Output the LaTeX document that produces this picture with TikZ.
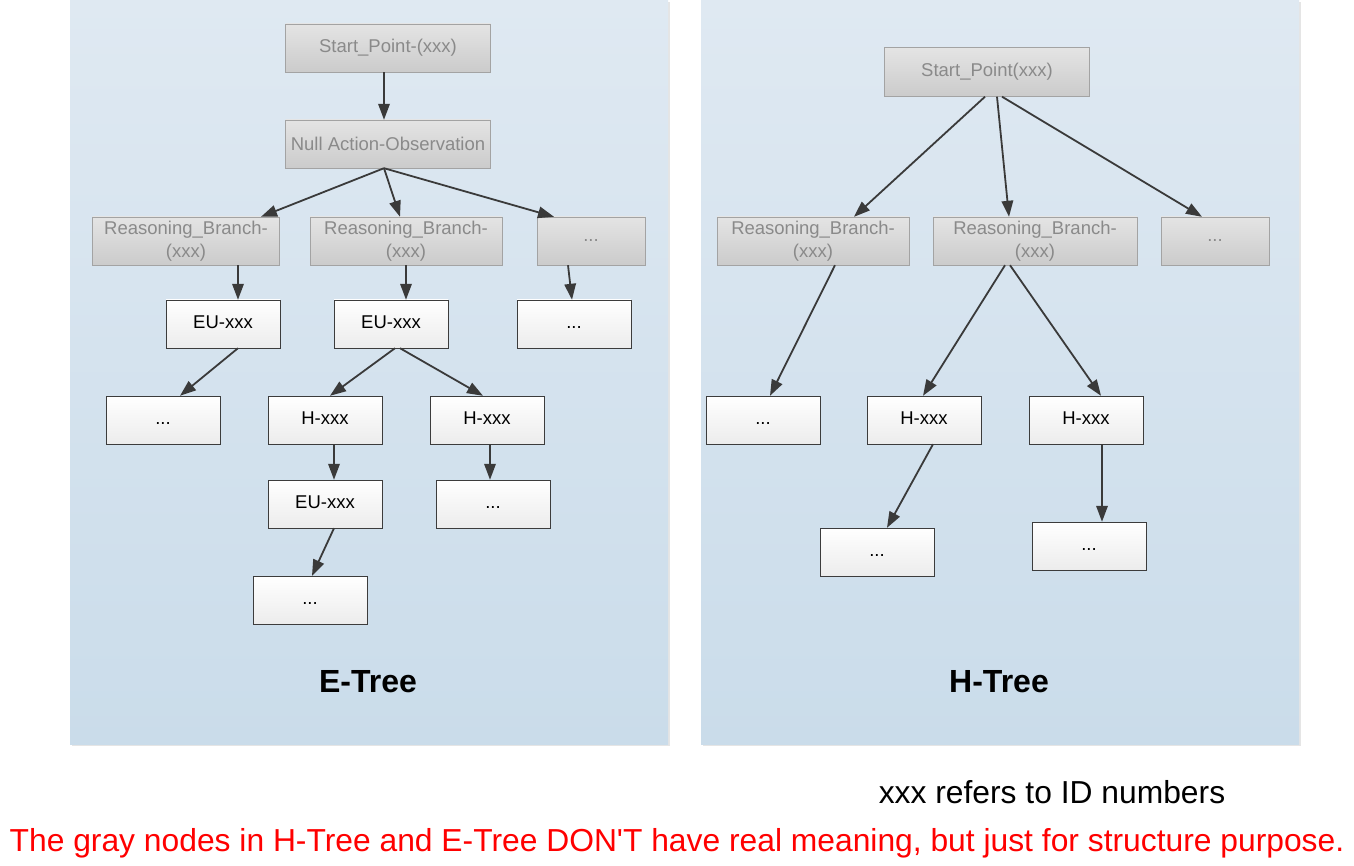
\documentclass[tikz,border=0pt]{standalone}
\usepackage{fontspec}
\setmainfont{Liberation Sans}
\usetikzlibrary{arrows.meta}
\definecolor{panelTop}{HTML}{DFE9F2}
\definecolor{panelBot}{HTML}{CADCEA}
\definecolor{greyTop}{HTML}{E4E4E4}
\definecolor{greyBot}{HTML}{CBCBCB}
\definecolor{greyLine}{HTML}{A3A3A3}
\definecolor{greyText}{HTML}{8A8A8A}
\definecolor{whiteBot}{HTML}{ECECEC}
\definecolor{darkLine}{HTML}{3C3C3C}
\definecolor{arrowCol}{HTML}{3A3A3A}
\tikzset{
    panel/.style = {top color=panelTop, bottom color=panelBot, draw=none},
    shade_box/.style = {fill=black!10, draw=none},
    boxnode/.style = {rectangle, align=center, inner sep=0pt, minimum height=48pt, font=\fontsize{18.5}{23}\selectfont},
    grey_node/.style = {boxnode, draw=greyLine, top color=greyTop, bottom color=greyBot, text=greyText},
    white_node/.style = {boxnode, draw=darkLine, top color=white, bottom color=whiteBot, text=black, minimum width=114pt, text height=12pt, text depth=3pt},
    title/.style = {font=\fontsize{32}{38}\selectfont\bfseries},
    note/.style = {font=\fontsize{31.8}{38}\selectfont},
    link/.style = {draw=arrowCol, line width=1.8pt, -{Triangle[length=16pt,width=11.5pt]}}
}

\begin{document}
\begin{tikzpicture}[x=1pt, y=-1pt]
    \useasboundingbox (0,0) rectangle (1354,866);

    % panels
    \fill[shade_box] (72,2) rectangle (670,746);
    \fill[panel] (70,0) rectangle (668,744);
    \fill[shade_box] (703,2) rectangle (1301,746);
    \fill[panel] (701,0) rectangle (1299,744);

    % E-Tree
    \node[grey_node, minimum width=205pt] (startE) at (388,48) {Start\_Point-(xxx)};
    \node[grey_node, minimum width=205pt] (nullE) at (388,144) {Null Action-Observation};
    \node[grey_node, minimum width=187pt] (rbE1) at (186,241) {Reasoning\_Branch-\\(xxx)};
    \node[grey_node, minimum width=192pt] (rbE2) at (406,241) {Reasoning\_Branch-\\(xxx)};
    \node[grey_node, minimum width=108pt] (rbE3) at (591,241) {...};
    \node[white_node] (euE1) at (223,324) {EU-xxx};
    \node[white_node] (euE2) at (391,324) {EU-xxx};
    \node[white_node] (dotsE1) at (574,324) {...};
    \node[white_node] (dotsE2) at (163,420) {...};
    \node[white_node] (hE1) at (325,420) {H-xxx};
    \node[white_node] (hE2) at (487,420) {H-xxx};
    \node[white_node] (euE3) at (325,504) {EU-xxx};
    \node[white_node] (dotsE3) at (493,504) {...};
    \node[white_node] (dotsE4) at (310,600) {...};

    \draw[link] ([xshift=-4pt]startE.south) -- ([xshift=-4pt]nullE.north);
    \draw[link] ([xshift=-4pt]nullE.south) -- ([xshift=75pt]rbE1.north);
    \draw[link] ([xshift=-4pt]nullE.south) -- ([xshift=-6pt]rbE2.north);
    \draw[link] ([xshift=-4pt]nullE.south) -- ([xshift=-37pt]rbE3.north);
    \draw[link] ([xshift=52pt]rbE1.south) -- ([xshift=15pt]euE1.north);
    \draw[link] (rbE2.south) -- ([xshift=15pt]euE2.north);
    \draw[link] ([xshift=-23pt]rbE3.south) -- ([xshift=-2pt]dotsE1.north);
    \draw[link] ([xshift=15pt]euE1.south) -- ([xshift=17pt]dotsE2.north);
    \draw[link] ([xshift=4pt]euE2.south) -- ([xshift=5pt]hE1.north);
    \draw[link] ([xshift=9pt]euE2.south) -- ([xshift=-4pt]hE2.north);
    \draw[link] ([xshift=9pt]hE1.south) -- ([xshift=9pt]euE3.north);
    \draw[link] ([xshift=3pt]hE2.south) -- ([xshift=-3pt]dotsE3.north);
    \draw[link] ([xshift=9pt]euE3.south) -- ([xshift=2pt]dotsE4.north);

    \node[title] (eTree) at (368,682) {E-Tree};

    % H-Tree
    \node[grey_node, minimum width=205pt, minimum height=49pt] (startH) at (987,72) {Start\_Point(xxx)};
    \node[grey_node, minimum width=192pt] (rbH1) at (813,241) {Reasoning\_Branch-\\(xxx)};
    \node[grey_node, minimum width=204pt] (rbH2) at (1035,241) {Reasoning\_Branch-\\(xxx)};
    \node[grey_node, minimum width=108pt] (rbH3) at (1215,241) {...};
    \node[white_node] (dotsH1) at (763,420) {...};
    \node[white_node] (hH1) at (924,420) {H-xxx};
    \node[white_node] (hH2) at (1086,420) {H-xxx};
    \node[white_node] (dotsH2) at (877,552) {...};
    \node[white_node] (dotsH3) at (1089,546) {...};

    \draw[link] ([xshift=-2pt]startH.south) -- ([xshift=41pt]rbH1.north);
    \draw[link] ([xshift=10pt]startH.south) -- ([xshift=-26pt]rbH2.north);
    \draw[link] ([xshift=15pt]startH.south) -- ([xshift=-13pt]rbH3.north);
    \draw[link] ([xshift=22pt]rbH1.south) -- ([xshift=7pt]dotsH1.north);
    \draw[link] ([xshift=-30pt]rbH2.south) -- ([xshift=-1pt]hH1.north);
    \draw[link] ([xshift=-25pt]rbH2.south) -- ([xshift=15pt]hH2.north);
    \draw[link] ([xshift=9pt]hH1.south) -- ([xshift=10pt]dotsH2.north);
    \draw[link] ([xshift=16pt]hH2.south) -- ([xshift=13pt]dotsH3.north);

    \node[title] (hTree) at (999,682) {H-Tree};

    % notes
    \node[note] (idNote) at (1052,792) {xxx refers to ID numbers};
    \node[note, text=red] (greyNote) at (677,843)
        {The gray nodes in H-Tree and E-Tree DON\textquotesingle T have real meaning, but just for structure purpose.};
\end{tikzpicture}
\end{document}
